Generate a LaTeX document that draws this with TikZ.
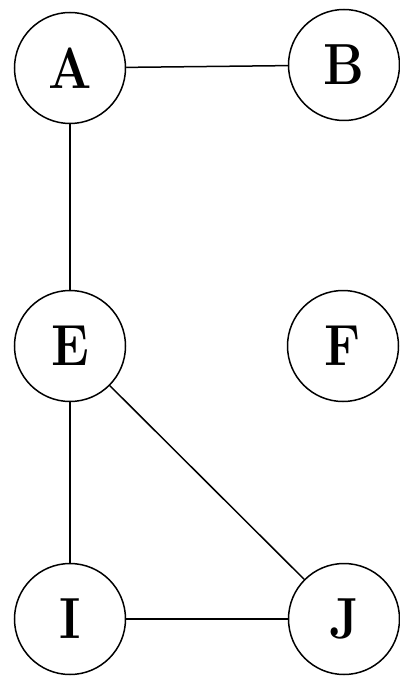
\documentclass[tikz,border=0pt]{standalone}
\usepackage{graphicx}
\newcommand{\vlab}[1]{\scalebox{0.88}[1]{\fontsize{58}{60}\selectfont\bfseries #1}}
\begin{document}
\begin{tikzpicture}[x=1pt,y=-1pt,
  vtx/.style={circle,draw,line width=1.5pt,minimum size=111pt,inner sep=0pt},
  edge/.style={line width=1.5pt}]
\useasboundingbox (0,0) rectangle (399,676);
\node[vtx] (A) at (70,68) {\vlab{A}};
\node[vtx] (B) at (344,65) {\vlab{B}};
\node[vtx] (E) at (70,346) {\vlab{E}};
\node[vtx] (F) at (343,346) {\vlab{F}};
\node[vtx] (I) at (70,619) {\vlab{I}};
\node[vtx] (J) at (344,619) {\vlab{J}};
\draw[edge] (A) -- (B);
\draw[edge] (A) -- (E);
\draw[edge] (E) -- (I);
\draw[edge] (E) -- (J);
\draw[edge] (I) -- (J);
\end{tikzpicture}
\end{document}
